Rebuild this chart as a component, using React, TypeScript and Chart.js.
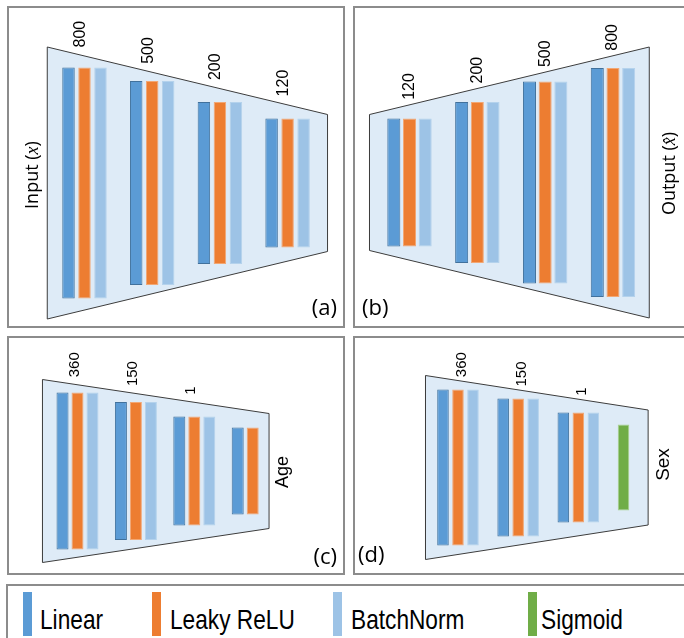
import React, { useEffect, useRef } from "react";
import { Chart, registerables } from "chart.js";

Chart.register(...registerables);

// ---------- data ----------
// (a) encoder: layer widths and drawn block heights
const encLayers = ["800", "500", "200", "120"];
const encLinear = [231, 204, 162, 129];
const encRelu = [231, 204, 162, 129];
const encNorm = [231, 204, 162, 129];
const encShapeX = [-0.55, 3.59];
const encShapeH = [272, 137];

// (b) decoder
const decLayers = ["120", "200", "500", "800"];
const decLinear = [128, 161, 202, 229];
const decRelu = [128, 161, 202, 229];
const decNorm = [128, 161, 202, 229];
const decShapeX = [-0.59, 3.535];
const decShapeH = [136, 271];

// (c) age head
const ageLayers = ["360", "150", "1", ""];
const ageLinear = [157, 138, 109, 87];
const ageRelu = [157, 138, 109, 87];
const ageNorm = [157, 138, 109, null];
const ageShapeX = [-0.6, 3.28];
const ageShapeH = [183, 115];

// (d) sex head
const sexLayers = ["360", "150", "1", ""];
const sexLinear = [156, 138, 110, null];
const sexRelu = [156, 138, 110, null];
const sexNorm = [156, 138, 110, null];
const sexSigmoid = [null, null, null, 86];
const sexShapeX = [-0.54, 3.16];
const sexShapeH = [184, 115];

// legend
const legendLabels = ["Linear", "Leaky ReLU", "BatchNorm", "Sigmoid"];

// ---------- styles ----------
const COLORS = {
  linear: { fill: "#5B9BD5", edge: "#41719C" },
  relu: { fill: "#ED7D31", edge: "#F2A774" },
  norm: { fill: "#9DC3E6", edge: "#B4D2EC" },
  sigmoid: { fill: "#70AD47", edge: "#A9D18E" },
};
const legendColors = [COLORS.linear.fill, COLORS.relu.fill, COLORS.norm.fill, COLORS.sigmoid.fill];
const legendSwatchLeft = [15, 144, 325, 520];
const legendTextLeft = [32, 162, 343, 533];

const SHAPE_FILL = "#DEEBF7";
const SHAPE_EDGE = "#3C3C3C";
const FRAME = "#8C8C8C";

type Series = { label: string; data: (number | null)[]; stack: string; fill: string; edge: string };

interface PanelSpec {
  left: number;
  top: number;
  width: number;
  height: number;
  layers: string[];
  series: Series[];
  shapeX: number[];
  shapeH: number[];
  pad: { left: number; right: number; top: number; bottom: number };
  yHalf: number;
  catPct: number;
  barPct: number;
  labelSize: number;
  labelDx: number;
  labelGap: number;
  side: { pieces: [string, boolean][]; edge: number; dx: number; dy: number; family: string; size: number };
  tag: { text: string; x: number; y: number; align: CanvasTextAlign };
}

const toRanges = (h: (number | null)[]) => h.map((v) => (v == null ? null : [-v / 2, v / 2]));

function drawPieces(
  ctx: CanvasRenderingContext2D,
  pieces: [string, boolean][],
  family: string,
  size: number,
  cx: number,
  cy: number,
  mode: "center" | "start"
) {
  ctx.save();
  ctx.translate(cx, cy);
  ctx.rotate(-Math.PI / 2);
  ctx.textBaseline = "middle";
  ctx.textAlign = "left";
  ctx.fillStyle = "#000";
  const fontOf = (it: boolean) =>
    it ? `italic ${size}px "Liberation Serif", "DejaVu Serif", serif` : `${size}px ${family}`;
  let total = 0;
  for (const [t, it] of pieces) {
    ctx.font = fontOf(it);
    total += ctx.measureText(t).width;
  }
  let x = mode === "center" ? -total / 2 : 0;
  for (const [t, it] of pieces) {
    ctx.font = fontOf(it);
    ctx.fillText(t, x, 0);
    x += ctx.measureText(t).width;
  }
  ctx.restore();
}

function makePlugin(spec: PanelSpec) {
  const geom = (chart: any) => {
    const xs = chart.scales.x;
    const ys = chart.scales.y;
    const x0 = xs.getPixelForValue(spec.shapeX[0]);
    const x1 = xs.getPixelForValue(spec.shapeX[1]);
    const t0 = ys.getPixelForValue(spec.shapeH[0] / 2);
    const b0 = ys.getPixelForValue(-spec.shapeH[0] / 2);
    const t1 = ys.getPixelForValue(spec.shapeH[1] / 2);
    const b1 = ys.getPixelForValue(-spec.shapeH[1] / 2);
    return { xs, ys, x0, x1, t0, b0, t1, b1 };
  };
  return {
    id: "diagram",
    beforeDatasetsDraw(chart: any) {
      const { x0, x1, t0, b0, t1, b1 } = geom(chart);
      const ctx = chart.ctx as CanvasRenderingContext2D;
      ctx.save();
      ctx.beginPath();
      ctx.moveTo(x0, t0);
      ctx.lineTo(x1, t1);
      ctx.lineTo(x1, b1);
      ctx.lineTo(x0, b0);
      ctx.closePath();
      ctx.fillStyle = SHAPE_FILL;
      ctx.fill();
      ctx.lineWidth = 1;
      ctx.strokeStyle = SHAPE_EDGE;
      ctx.stroke();
      ctx.restore();
    },
    afterDatasetsDraw(chart: any) {
      const { xs, ys, x0, x1, t0, t1 } = geom(chart);
      const ctx = chart.ctx as CanvasRenderingContext2D;
      // layer size labels along the top edge
      spec.layers.forEach((lab, i) => {
        if (!lab) return;
        const x = xs.getPixelForValue(i) + spec.labelDx;
        const topY = t0 + ((x - x0) / (x1 - x0)) * (t1 - t0);
        drawPieces(ctx, [[lab, false]], '"Liberation Sans", Arial, sans-serif', spec.labelSize, x, topY - spec.labelGap, "start");
      });
      // side label (input / output)
      const edgeX = spec.side.edge === 0 ? x0 : x1;
      const cy = ys.getPixelForValue(0) + spec.side.dy;
      drawPieces(ctx, spec.side.pieces, spec.side.family, spec.side.size, edgeX + spec.side.dx, cy, "center");
      // panel tag
      ctx.save();
      ctx.font = '22px "Open Sans", sans-serif';
      ctx.fillStyle = "#000";
      ctx.textAlign = spec.tag.align;
      ctx.textBaseline = "middle";
      ctx.fillText(spec.tag.text, spec.tag.x, spec.tag.y);
      ctx.restore();
    },
  };
}

function Panel({ spec }: { spec: PanelSpec }) {
  const ref = useRef<HTMLCanvasElement | null>(null);
  useEffect(() => {
    if (!ref.current) return;
    const chart = new Chart(ref.current, {
      type: "bar",
      data: {
        labels: spec.layers,
        datasets: spec.series.map((s) => ({
          label: s.label,
          data: toRanges(s.data) as any,
          stack: s.stack,
          backgroundColor: s.fill,
          borderColor: s.edge,
          borderWidth: 1,
          borderSkipped: false,
          categoryPercentage: spec.catPct,
          barPercentage: spec.barPct,
        })),
      },
      options: {
        responsive: false,
        animation: false,
        events: [],
        layout: { padding: spec.pad },
        plugins: {
          legend: { display: false },
          tooltip: { enabled: false },
          title: { display: false },
        },
        scales: {
          x: { type: "category", display: false, offset: true, grid: { display: false } },
          y: { type: "linear", display: false, min: -spec.yHalf, max: spec.yHalf, stacked: false },
        },
      },
      plugins: [makePlugin(spec)],
    });
    return () => chart.destroy();
  }, [spec]);
  return (
    <canvas
      ref={ref}
      width={spec.width}
      height={spec.height}
      style={{ position: "absolute", left: spec.left, top: spec.top, width: spec.width, height: spec.height }}
    />
  );
}

const lin = (d: (number | null)[]): Series => ({ label: "Linear", data: d, stack: "lin", fill: COLORS.linear.fill, edge: COLORS.linear.edge });
const rel = (d: (number | null)[]): Series => ({ label: "Leaky ReLU", data: d, stack: "relu", fill: COLORS.relu.fill, edge: COLORS.relu.edge });
const bn = (d: (number | null)[]): Series => ({ label: "BatchNorm", data: d, stack: "bn", fill: COLORS.norm.fill, edge: COLORS.norm.edge });
const sig = (d: (number | null)[]): Series => ({ label: "Sigmoid", data: d, stack: "lin", fill: COLORS.sigmoid.fill, edge: COLORS.sigmoid.edge });

const OPEN = '"Open Sans", sans-serif';
const ARIAL = '"Liberation Sans", Arial, sans-serif';

const panels: PanelSpec[] = [
  {
    left: 9, top: 8, width: 334, height: 318,
    layers: encLayers,
    series: [lin(encLinear), rel(encRelu), bn(encNorm)],
    shapeX: encShapeX, shapeH: encShapeH,
    pad: { left: 41.65, right: 21.55, top: 35, bottom: 3 },
    yHalf: 140, catPct: 0.709, barPct: 0.78,
    labelSize: 16, labelDx: -4, labelGap: 7.5,
    side: { pieces: [["Input (", false], ["x", true], [")", false]], edge: 0, dx: -14, dy: -8, family: OPEN, size: 18 },
    tag: { text: "(a)", x: 328, y: 301, align: "right" },
  },
  {
    left: 355, top: 8, width: 333, height: 318,
    layers: decLayers,
    series: [lin(decLinear), rel(decRelu), bn(decNorm)],
    shapeX: decShapeX, shapeH: decShapeH,
    pad: { left: 20.6, right: 41.1, top: 34.5, bottom: 3.5 },
    yHalf: 140, catPct: 0.694, barPct: 0.83,
    labelSize: 16, labelDx: 0, labelGap: 5,
    side: { pieces: [["Output (", false], ["x\u0302", true], [")", false]], edge: 1, dx: 21, dy: -9, family: OPEN, size: 18 },
    tag: { text: "(b)", x: 7, y: 300.5, align: "left" },
  },
  {
    left: 9, top: 338, width: 334, height: 235,
    layers: ageLayers,
    series: [lin(ageLinear), rel(ageRelu), bn(ageNorm)],
    shapeX: ageShapeX, shapeH: ageShapeH,
    pad: { left: 39.3, right: 61.1, top: 33, bottom: 2 },
    yHalf: 100, catPct: 0.77, barPct: 0.8,
    labelSize: 15, labelDx: -3, labelGap: 7,
    side: { pieces: [["Age", false]], edge: 1, dx: 14, dy: 1, family: ARIAL, size: 18 },
    tag: { text: "(c)", x: 328, y: 219.5, align: "right" },
  },
  {
    left: 355, top: 338, width: 333, height: 235,
    layers: sexLayers,
    series: [lin(sexLinear), rel(sexRelu), bn(sexNorm), sig(sexSigmoid)],
    shapeX: sexShapeX, shapeH: sexShapeH,
    pad: { left: 72.9, right: 19.4, top: 29.5, bottom: 5.5 },
    yHalf: 100, catPct: 0.748, barPct: 0.77,
    labelSize: 15, labelDx: 4, labelGap: 4,
    side: { pieces: [["Sex", false]], edge: 1, dx: 16, dy: -3, family: ARIAL, size: 19 },
    tag: { text: "(d)", x: 3, y: 218, align: "left" },
  },
];

const frames = [
  { left: 7, top: 6, width: 338, height: 322 },
  { left: 353, top: 6, width: 337, height: 322 },
  { left: 7, top: 336, width: 338, height: 239 },
  { left: 353, top: 336, width: 337, height: 239 },
];

export default function App() {
  return (
    <div
      style={{
        position: "absolute",
        left: 0,
        top: 0,
        width: 684,
        height: 638,
        overflow: "hidden",
        background: "#fff",
      }}
    >
      {frames.map((f, i) => (
        <div
          key={"f" + i}
          style={{
            position: "absolute",
            left: f.left,
            top: f.top,
            width: f.width,
            height: f.height,
            border: `2px solid ${FRAME}`,
            boxSizing: "border-box",
          }}
        />
      ))}
      {panels.map((p, i) => (
        <Panel key={"p" + i} spec={p} />
      ))}
      <div
        style={{
          position: "absolute",
          left: 6,
          top: 584,
          width: 700,
          height: 80,
          border: `2px solid ${FRAME}`,
          boxSizing: "border-box",
        }}
      >
        {legendLabels.map((lab, i) => (
          <React.Fragment key={lab}>
            <div
              style={{
                position: "absolute",
                left: legendSwatchLeft[i],
                top: 6,
                width: 9,
                height: 44,
                background: legendColors[i],
              }}
            />
            <div
              style={{
                position: "absolute",
                left: legendTextLeft[i],
                top: 20,
                fontFamily: '"Liberation Sans", Arial, sans-serif',
                fontSize: 28,
                lineHeight: "28px",
                whiteSpace: "nowrap",
                color: "#000",
                transform: "scaleX(0.81)",
                transformOrigin: "0 0",
              }}
            >
              {lab}
            </div>
          </React.Fragment>
        ))}
      </div>
    </div>
  );
}
